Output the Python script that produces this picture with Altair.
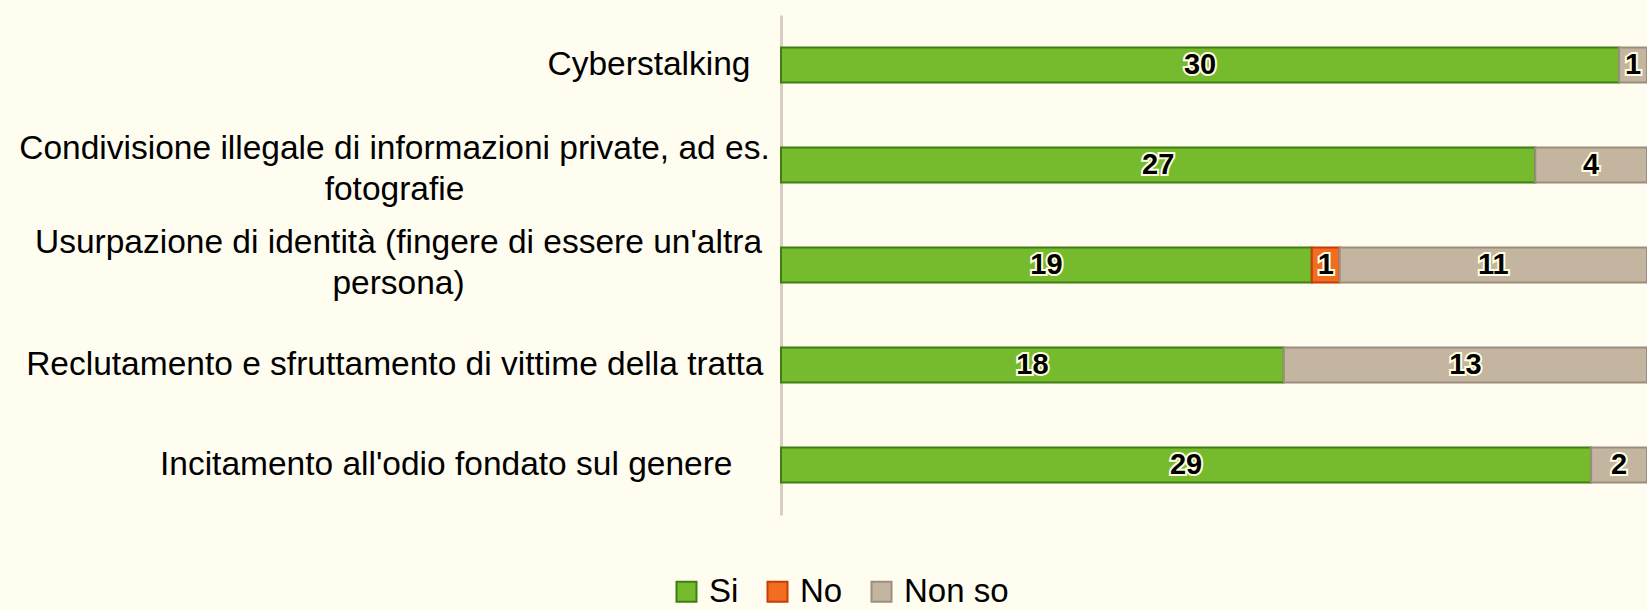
import altair as alt
import pandas as pd

categories = [
    "Cyberstalking",
    "Condivisione illegale di informazioni private, ad es.|fotografie",
    "Usurpazione di identità (fingere di essere un'altra|persona)",
    "Reclutamento e sfruttamento di vittime della tratta",
    "Incitamento all'odio fondato sul genere",
]
series = ["Si", "No", "Non so"]
si = [30, 27, 19, 18, 29]
no = [0, 0, 1, 0, 0]
nonso = [1, 4, 11, 13, 2]

rows = []
for i, c in enumerate(categories):
    for j, (s, vals) in enumerate(zip(series, [si, no, nonso])):
        rows.append({"cat": c, "serie": s, "ord": j, "val": vals[i]})
df = pd.DataFrame(rows)

fill_colors = ["#76BB2E", "#F26D1F", "#C4B5A1"]
stroke_colors = ["#3F7E12", "#C23E06", "#9C8E7C"]
FONT = "Liberation Sans, Arial, sans-serif"
BG = "#FFFDF0"

base = (
    alt.Chart(df)
    .transform_filter("datum.val > 0")
    .transform_stack(stack="val", groupby=["cat"], as_=["x0", "x1"],
                     sort=[alt.SortField("ord", order="ascending")])
    .transform_calculate(xm="(datum.x0 + datum.x1) / 2")
)

xscale = alt.Scale(domain=[0, 31], nice=False, zero=True)
yaxis = alt.Axis(
    title=None, ticks=False, grid=False,
    domainColor="#D8CFC2", domainWidth=3,
    labelFont=FONT, labelFontSize=33.5, labelColor="#000000",
    labelLimit=1200, labelLineHeight=41,
    labelExpr="split(datum.label, '|')",
    labelAlign={"condition": {"test": "indexof(datum.value, '|') >= 0", "value": "center"}, "value": "right"},
    labelOffset={"condition": [
        {"test": "indexof(datum.value, 'Condivisione') >= 0", "value": -16},
        {"test": "indexof(datum.value, 'Usurpazione') >= 0", "value": -22},
    ], "value": 0},
    labelPadding={"condition": [
        {"test": "indexof(datum.value, 'Condivisione') >= 0", "value": 387},
        {"test": "indexof(datum.value, 'Usurpazione') >= 0", "value": 383},
        {"test": "datum.value == 'Cyberstalking'", "value": 31},
        {"test": "indexof(datum.value, 'Incitamento') >= 0", "value": 49},
    ], "value": 18},
)
yenc = alt.Y("cat:N", sort=categories,
             scale=alt.Scale(paddingInner=0.65, paddingOuter=0.325), axis=yaxis)

leg = alt.Legend(
    title=None, orient="none", legendX=-111, legendY=560,
    direction="horizontal", symbolType="square", symbolSize=400,
    symbolStrokeWidth=2,
    labelFont=FONT, labelFontSize=33, labelColor="#000000",
    columnPadding=22, labelOffset=6)

bars = base.mark_bar(strokeWidth=2).encode(
    x=alt.X("x0:Q", scale=xscale, axis=None),
    x2="x1:Q",
    y=yenc,
    fill=alt.Fill("serie:N", sort=series,
                  scale=alt.Scale(domain=series, range=fill_colors), legend=leg),
    stroke=alt.Stroke("serie:N", sort=series,
                      scale=alt.Scale(domain=series, range=stroke_colors), legend=leg),
)

halo = base.mark_text(font=FONT, fontSize=29, fontWeight="bold",
                      stroke="#FFFFE0", strokeWidth=4, fill="#FFFFE0", baseline="middle").encode(
    x=alt.X("xm:Q", scale=xscale, axis=None), y=yenc, text="val:Q")
labels = base.mark_text(font=FONT, fontSize=29, fontWeight="bold",
                        color="#000000", baseline="middle").encode(
    x=alt.X("xm:Q", scale=xscale, axis=None), y=yenc, text="val:Q")

chart = (
    alt.layer(bars, halo, labels)
    .properties(width=866, height=500, background=BG,
                padding={"left": 781, "top": 15, "right": 0, "bottom": 95},
                autosize=alt.AutoSizeParams(type="none"))
    .configure_view(stroke=None)
)

chart.save("out.html", embed_options={"renderer": "svg", "actions": False})
